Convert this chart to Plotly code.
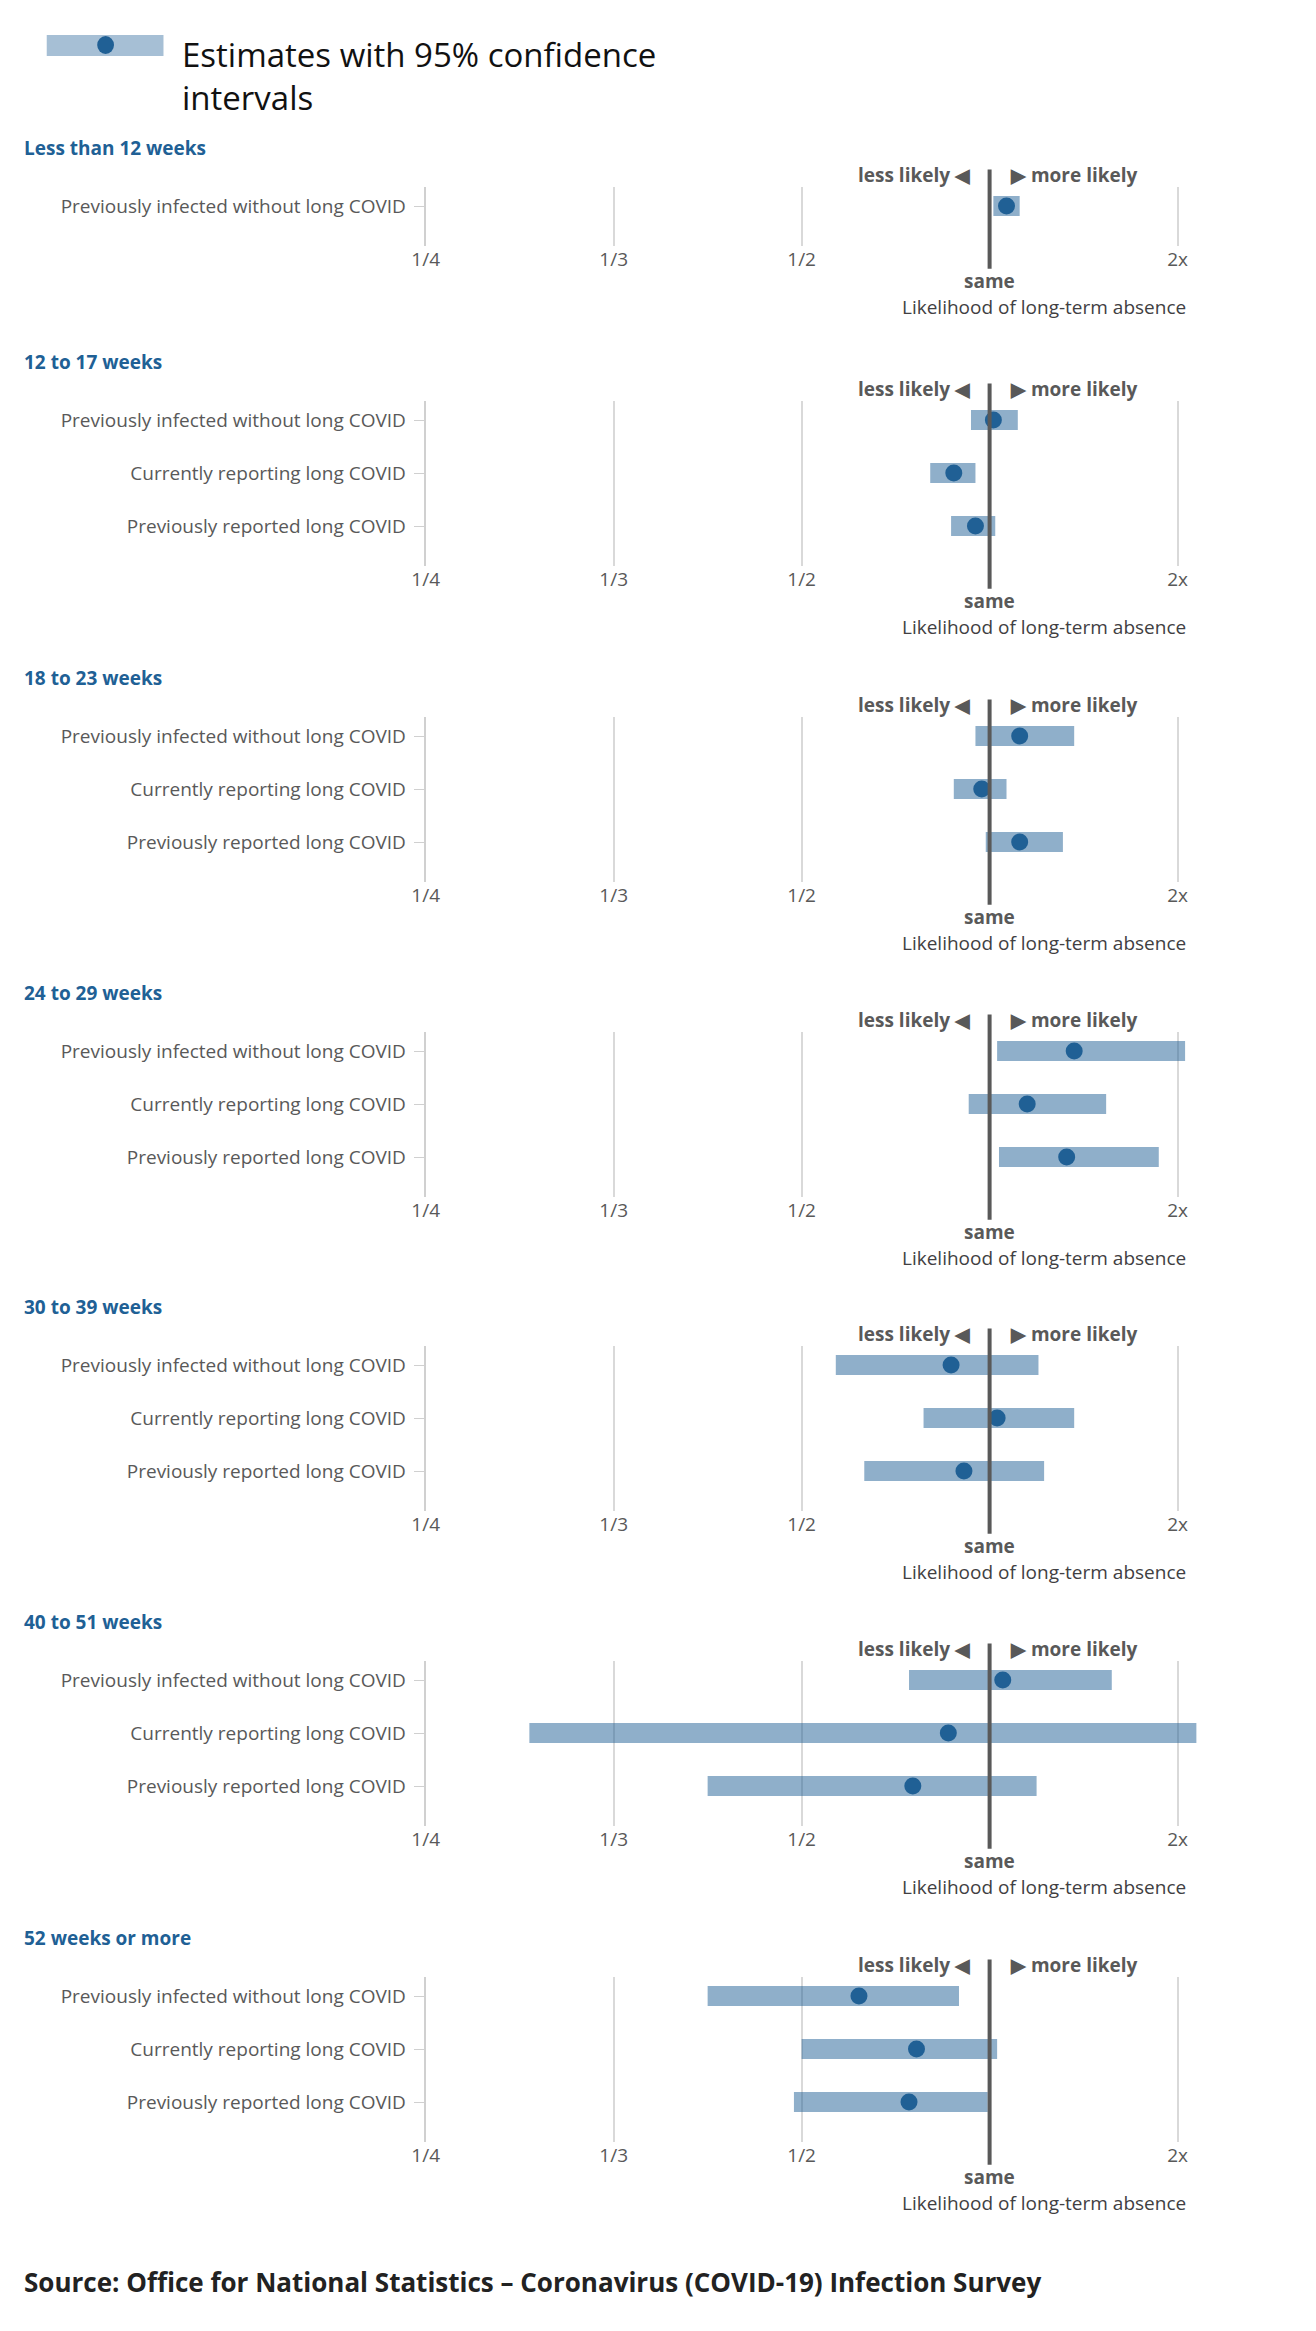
import plotly.graph_objects as go

W, H = 1316, 2331

panel_titles = ["Less than 12 weeks", "12 to 17 weeks", "18 to 23 weeks", "24 to 29 weeks",
                "30 to 39 weeks", "40 to 51 weeks", "52 weeks or more"]
groups = ["Previously infected without long COVID", "Currently reporting long COVID",
          "Previously reported long COVID"]

# odds-style ratios: [estimate, lower, upper] per group
estimates = [
    [1.09],
    [1.02, 0.84, 0.93],
    [1.16, 0.96, 1.16],
    [1.45, 1.20, 1.41],
    [0.83, 1.04, 0.88],
    [1.07, 0.82, 0.71],
    [0.59, 0.72, 0.70],
]
lower = [
    [1.02],
    [0.91, 0.76, 0.83],
    [0.93, 0.84, 0.98],
    [1.04, 0.90, 1.05],
    [0.55, 0.74, 0.60],
    [0.70, 0.29, 0.40],
    [0.40, 0.50, 0.49],
]
upper = [
    [1.16],
    [1.15, 0.93, 1.03],
    [1.45, 1.09, 1.39],
    [2.04, 1.62, 1.90],
    [1.26, 1.45, 1.29],
    [1.65, 2.30, 1.25],
    [0.86, 1.04, 0.99],
]
tick_vals = [0.25, 1 / 3, 0.5, 2]
tick_text = ["1/4", "1/3", "1/2", "2x"]


def scale(r):
    # symmetric ratio scale: 2x and 1/2 sit the same distance from "same"
    return r - 1 if r >= 1 else 1 - 1 / r


BAR = "rgba(32,96,149,0.5)"
DOT = "#206095"
GREY = "#595959"
FONT = "Open Sans"

row1_px = [198, 412, 728, 1043, 1357, 1672, 1988]
ROW = 53
X0, X1 = 408, 1187

fig = go.Figure()
shapes, annotations = [], []
layout = {}

for k, title in enumerate(panel_titles):
    n = len(estimates[k])
    cats = groups[:n]
    ax = "" if k == 0 else str(k + 1)
    xa, ya = "x" + ax, "y" + ax
    top = row1_px[k] - 0.35 * ROW
    bottom = row1_px[k] + (n - 1 + 0.75) * ROW

    fig.add_trace(go.Bar(
        y=cats, base=[scale(v) for v in lower[k]],
        x=[scale(h) - scale(l) for l, h in zip(lower[k], upper[k])],
        orientation="h", width=0.38, marker=dict(color=BAR, line=dict(width=0)),
        xaxis=xa, yaxis=ya, showlegend=False, hoverinfo="skip"))
    fig.add_trace(go.Scatter(
        y=cats, x=[scale(v) for v in estimates[k]], mode="markers",
        marker=dict(color=DOT, size=17), xaxis=xa, yaxis=ya, showlegend=False))

    layout["xaxis" + ax] = dict(
        domain=[X0 / W, X1 / W], range=[-3, 1.1], anchor=ya,
        tickvals=[scale(v) for v in tick_vals], ticktext=tick_text,
        showgrid=True, gridcolor="#d9d9d9", gridwidth=1.5, zeroline=False,
        showline=False, ticks="", tickfont=dict(size=19, color=GREY, family=FONT),
        fixedrange=True)
    layout["yaxis" + ax] = dict(
        domain=[1 - bottom / H, 1 - top / H], anchor=xa, type="category",
        categoryorder="array", categoryarray=cats,
        range=[n - 1 + 0.75, -0.35], showgrid=False, zeroline=False,
        showline=True, linecolor="#d0d0d0", linewidth=2, ticks="outside",
        ticklen=10, tickcolor="#d0d0d0", ticklabelstandoff=4,
        tickfont=dict(size=19, color=GREY, family=FONT), fixedrange=True)

    shapes.append(dict(type="line", xref=xa, yref="paper", x0=0, x1=0,
                       y0=1 - (top - 18) / H, y1=1 - (bottom + 23) / H,
                       line=dict(color=GREY, width=4)))
    annotations += [
        dict(xref="paper", yref="paper", x=0, y=1 - (row1_px[k] - 58) / H,
             xanchor="left", yanchor="middle", showarrow=False,
             text="<b>%s</b>" % title, font=dict(size=19, color=DOT, family=FONT)),
        dict(xref=xa, yref="paper", x=0, y=1 - (row1_px[k] - 31) / H, xshift=-18,
             xanchor="right", yanchor="middle", showarrow=False,
             text="<b>less likely ◀</b>", font=dict(size=19, color=GREY, family=FONT)),
        dict(xref=xa, yref="paper", x=0, y=1 - (row1_px[k] - 31) / H, xshift=18,
             xanchor="left", yanchor="middle", showarrow=False,
             text="<b>▶ more likely</b>", font=dict(size=19, color=GREY, family=FONT)),
        dict(xref=xa, yref="paper", x=0, y=1 - (bottom + 35) / H,
             xanchor="center", yanchor="middle", showarrow=False,
             text="<b>same</b>", font=dict(size=19, color=GREY, family=FONT)),
        dict(xref=xa, yref="paper", x=0.29, y=1 - (bottom + 61) / H,
             xanchor="center", yanchor="middle", showarrow=False,
             text="Likelihood of long-term absence",
             font=dict(size=19, color="#414042", family=FONT)),
    ]

# legend sample
shapes.append(dict(type="rect", xref="paper", yref="paper", x0=25 / W, x1=143 / W,
                   y0=1 - 48 / H, y1=1 - 27 / H, fillcolor="rgba(32,96,149,0.4)",
                   line=dict(width=0)))
shapes.append(dict(type="circle", xref="paper", yref="paper", x0=76 / W, x1=93 / W,
                   y0=1 - 46 / H, y1=1 - 28 / H, fillcolor=DOT, line=dict(width=0)))
annotations += [
    dict(xref="paper", yref="paper", x=160 / W, y=1 - 22 / H, xanchor="left", yanchor="top",
         align="left", showarrow=False, text="Estimates with 95% confidence<br>intervals",
         font=dict(size=33, color="#111", family=FONT)),
    dict(xref="paper", yref="paper", x=0, y=1 - 2274 / H, xanchor="left", yanchor="middle",
         showarrow=False,
         text="<b>Source: Office for National Statistics – Coronavirus (COVID-19) Infection Survey</b>",
         font=dict(size=26, color="#222", family=FONT)),
]

fig.update_layout(width=W, height=H, margin=dict(l=0, r=0, t=0, b=0),
                  plot_bgcolor="white", paper_bgcolor="white", barmode="overlay",
                  shapes=shapes, annotations=annotations, **layout)
fig.write_html("out.html")
